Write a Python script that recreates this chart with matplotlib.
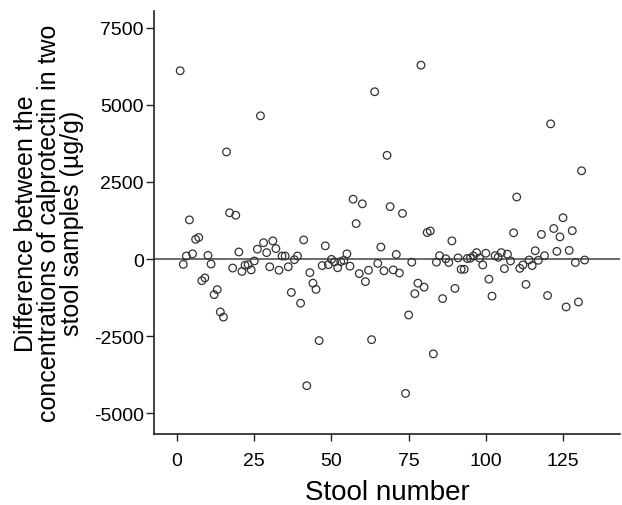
import numpy as np
import matplotlib
matplotlib.use("Agg")
import matplotlib.pyplot as plt

# stool number 1..132 and difference between the two samples (ug/g)
stool_no = np.arange(1, 133)
diff_ug_g = [
    6100, -170, 100, 1270, 170, 640, 700, -700, -610, 120,
    -160, -1150, -990, -1710, -1880, 3470, 1500, -290, 1420, 230,
    -400, -200, -180, -350, -60, 320, 4640, 530, 210, -250,
    590, 340, -360, 100, 100, -250, -1080, -20, 100, -1430,
    620, -4100, -440, -780, -980, -2640, -210, 430, -180, -10,
    -90, -280, -80, -40, 170, -230, 1940, 1150, -470, 1790,
    -730, -360, -2610, 5420, -140, 390, -380, 3360, 1700, -350,
    150, -450, 1480, -4350, -1810, -100, -1120, -780, 6280, -910,
    860, 910, -3070, -100, 110, -1280, 10, -110, 590, -950,
    40, -330, -330, 20, 30, 100, 210, 30, -190, 190,
    -650, -1200, 110, 60, 210, -310, 160, -60, 850, 2010,
    -300, -190, -820, -30, -210, 270, -40, 800, 110, -1180,
    4380, 990, 250, 720, 1340, -1550, 280, 920, -110, -1390,
    2860, -30,
]
x_ticks = [0, 25, 50, 75, 100, 125]
y_ticks = [-5000, -2500, 0, 2500, 5000, 7500]

plt.rcParams["font.family"] = ["Liberation Sans", "DejaVu Sans"]
plt.rcParams["axes.unicode_minus"] = False

fig = plt.figure(figsize=(6.22, 5.06), dpi=100)
ax = fig.add_axes([0.247, 0.140, 0.750, 0.836])

ax.axhline(0, color="#444444", lw=1.1, zorder=1)
ax.scatter(stool_no, diff_ug_g, s=30, facecolors="none",
           edgecolors="#333333", linewidths=0.9, zorder=2)

ax.set_xlim(-7.6, 143.5)
ax.set_ylim(-5670, 8030)
ax.set_xticks(x_ticks)
ax.set_yticks(y_ticks)

for side in ("top", "right"):
    ax.spines[side].set_visible(False)
for side in ("left", "bottom"):
    ax.spines[side].set_linewidth(1.2)
    ax.spines[side].set_color("#222222")

ax.tick_params(axis="both", labelsize=14, width=1.0, color="#222222")
ax.tick_params(axis="y", length=6, pad=1)
ax.tick_params(axis="x", length=5, pad=8)

ax.set_xlabel("Stool number", fontsize=20, labelpad=7)
ax.set_ylabel("Difference between the\nconcentrations of calprotectin in two\nstool samples (µg/g)",
              fontsize=18, linespacing=0.95, labelpad=7)

fig.savefig("out.png", dpi=100)
